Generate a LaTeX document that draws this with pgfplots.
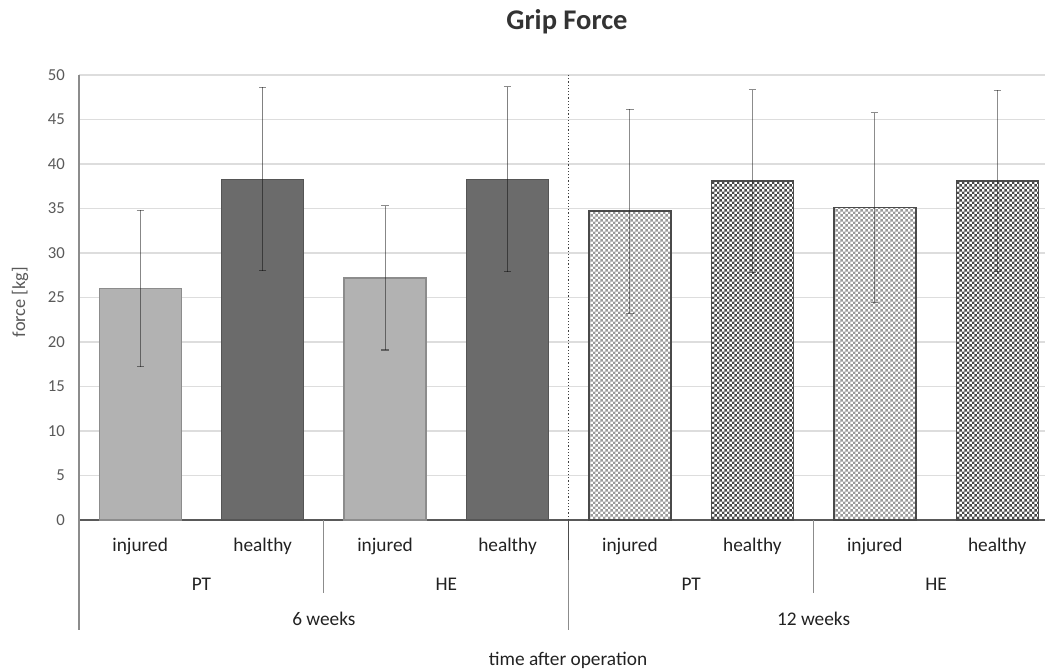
\documentclass[border=0pt]{standalone}
\usepackage{pgfplots}
\pgfplotsset{compat=1.18}
\usepackage{fontspec}
\setmainfont{Carlito}
\usetikzlibrary{patterns}
\pgfdeclarepatternformonly{finechecker}{\pgfpointorigin}{\pgfqpoint{2.7bp}{2.7bp}}{\pgfqpoint{2.7bp}{2.7bp}}{%
  \pgfpathrectangle{\pgfpointorigin}{\pgfqpoint{1.35bp}{1.35bp}}%
  \pgfpathrectangle{\pgfqpoint{1.35bp}{1.35bp}}{\pgfqpoint{1.35bp}{1.35bp}}%
  \pgfusepath{fill}}
\definecolor{lightbar}{HTML}{B2B2B2}
\definecolor{lightedge}{HTML}{8C8C8C}
\definecolor{darkbar}{HTML}{6B6B6B}
\definecolor{darkedge}{HTML}{555555}
\definecolor{chkl}{HTML}{9A9A9A}
\definecolor{chkd}{HTML}{4A4A4A}
\definecolor{ticktext}{HTML}{595959}
\definecolor{cattext}{HTML}{222222}
\definecolor{gridc}{HTML}{DDDDDD}
\definecolor{sepc}{HTML}{8C8C8C}
\tikzset{catlab/.style={anchor=base, text=cattext, font=\fontsize{9.7}{11}\selectfont, inner sep=0pt}}
\pgfplotsset{errb/.style={error bars/.cd, y dir=both, y explicit,
  error bar style={draw=black, draw opacity=0.45, line width=0.55bp, solid},
  error mark=-, error mark options={draw=black, draw opacity=0.45, line width=0.55bp, mark size=1.8bp, rotate=90}}}
\begin{document}
\begin{tikzpicture}
\useasboundingbox (-39.5bp,-74.5bp) rectangle (483bp,260bp);
\begin{axis}[
  at={(0,0)}, anchor=south west,
  scale only axis, width=483bp, height=222.5bp,
  xmin=-0.5, xmax=7.39, ymin=0, ymax=50,
  ytick={0,5,...,50}, xtick=\empty,
  ymajorgrids, grid style={gridc, line width=0.6bp},
  axis x line*=bottom, axis y line*=left,
  x axis line style={-, draw=ticktext, line width=0.7bp},
  y axis line style={-, draw=sepc, line width=0.6bp},
  major tick length=0pt,
  /pgf/number format/assume math mode=true,
  yticklabel style={font=\fontsize{8.4}{9.5}\selectfont, text=ticktext, xshift=-3.5bp},
  ybar, bar width=41bp, bar shift=0pt,
  clip=false,
]
\addplot[fill=lightbar, draw=lightedge, line width=0.6bp, errb] coordinates {(0,26.0) +- (0,8.8) (2,27.2) +- (0,8.1)};
\addplot[fill=darkbar, draw=darkedge, line width=0.6bp, errb] coordinates {(1,38.3) +- (0,10.3) (3,38.3) +- (0,10.4)};
\addplot[fill=white, draw=chkd, line width=0.7bp, postaction={pattern=finechecker, pattern color=chkl}, errb] coordinates {(4,34.7) +- (0,11.45) (6,35.1) +- (0,10.65)};
\addplot[fill=white, draw=chkd, line width=0.7bp, postaction={pattern=finechecker, pattern color=chkd}, errb] coordinates {(5,38.1) +- (0,10.25) (7,38.1) +- (0,10.2)};
% group separator
\draw[densely dotted, color=black!75, line width=0.6bp] (axis cs:3.5,0) -- (axis cs:3.5,50);
% category axis lines
\draw[sepc, line width=0.6bp] (axis cs:-0.5,0) -- ([yshift=-55bp]axis cs:-0.5,0);
\draw[sepc, line width=0.6bp] (axis cs:1.5,0) -- ([yshift=-36.5bp]axis cs:1.5,0);
\draw[sepc, line width=0.6bp] (axis cs:3.5,0) -- ([yshift=-55bp]axis cs:3.5,0);
\draw[black!70, line width=0.6bp] (axis cs:3.5,0) -- ([yshift=-20bp]axis cs:3.5,0);
\draw[sepc, line width=0.6bp] (axis cs:5.5,0) -- ([yshift=-36.5bp]axis cs:5.5,0);
% labels
\node[catlab] at ([yshift=-15.5bp]axis cs:0,0) {injured};
\node[catlab] at ([yshift=-15.5bp]axis cs:1,0) {healthy};
\node[catlab] at ([yshift=-15.5bp]axis cs:2,0) {injured};
\node[catlab] at ([yshift=-15.5bp]axis cs:3,0) {healthy};
\node[catlab] at ([yshift=-15.5bp]axis cs:4,0) {injured};
\node[catlab] at ([yshift=-15.5bp]axis cs:5,0) {healthy};
\node[catlab] at ([yshift=-15.5bp]axis cs:6,0) {injured};
\node[catlab] at ([yshift=-15.5bp]axis cs:7,0) {healthy};
\node[catlab] at ([yshift=-35bp]axis cs:0.5,0) {PT};
\node[catlab] at ([yshift=-35bp]axis cs:2.5,0) {HE};
\node[catlab] at ([yshift=-35bp]axis cs:4.5,0) {PT};
\node[catlab] at ([yshift=-35bp]axis cs:6.5,0) {HE};
\node[catlab] at ([yshift=-52.5bp]axis cs:1.5,0) {6 weeks};
\node[catlab] at ([yshift=-52.5bp]axis cs:5.5,0) {12 weeks};
\end{axis}
\node[anchor=base, text=black!80, font=\bfseries\fontsize{14.3}{16}\selectfont, inner sep=0pt] at (244bp,245bp) {Grip Force};
\node[catlab] at (244.5bp,-72.5bp) {time after operation};
\node[rotate=90, anchor=center, text=ticktext, font=\fontsize{9.2}{11}\selectfont, inner sep=0pt] at (-29.5bp,109bp) {force [kg]};
\end{tikzpicture}
\end{document}
